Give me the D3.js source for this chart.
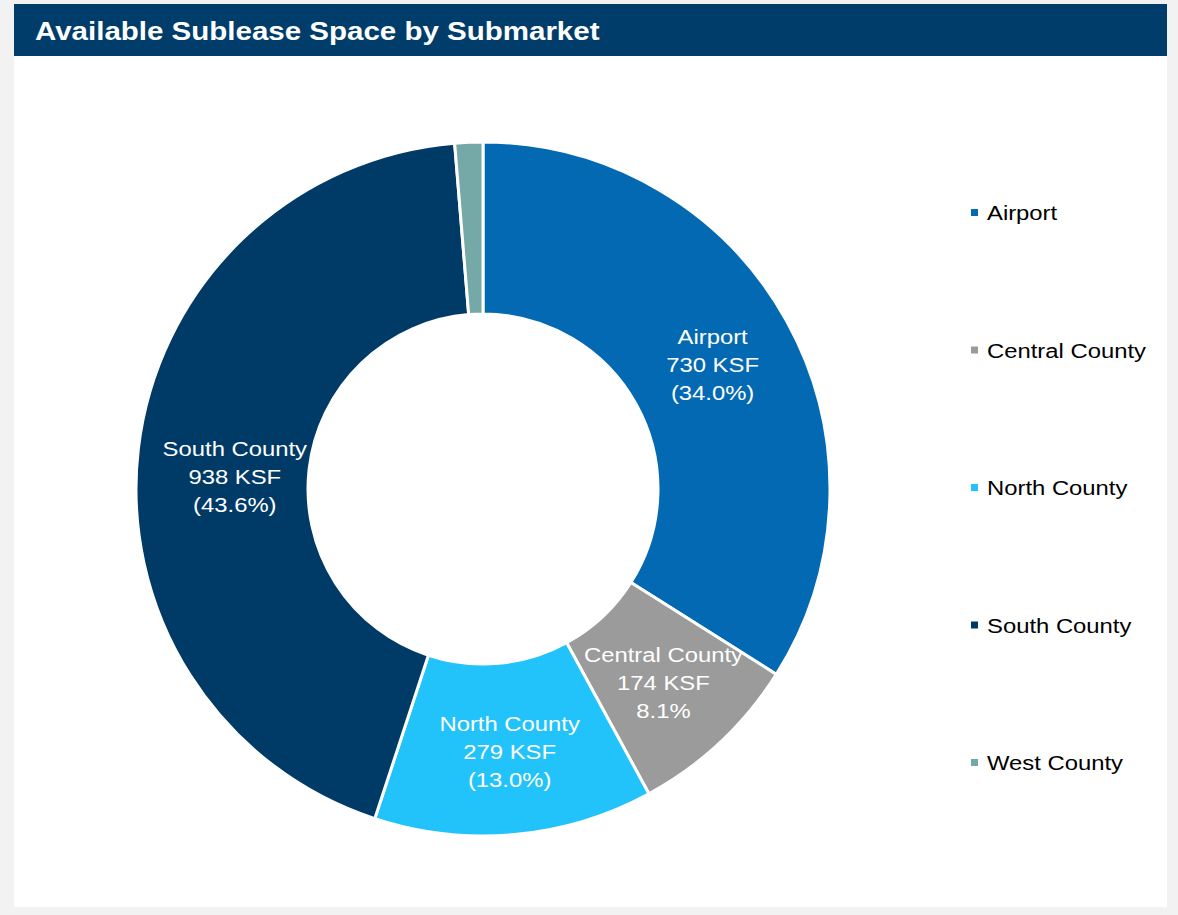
<!DOCTYPE html>
<html><head><meta charset="utf-8">
<script src="https://cdn.jsdelivr.net/npm/d3@7"></script>
<style>
html,body{margin:0;padding:0;background:#f2f2f2;}
svg{display:block;}
</style></head>
<body>
<svg id="chart" width="1178" height="915"></svg>
<script>
const categories = ["Airport","Central County","North County","South County","West County"];
const values = [730, 174, 279, 938, 28];
const valueLabels = ["730 KSF","174 KSF","279 KSF","938 KSF","28 KSF"];
const pctLabels = ["(34.0%)","8.1%","(13.0%)","(43.6%)","(1.3%)"];
const colors = ["#0369b3","#9b9b9b","#22c3fb","#003a66","#74a9a8"];
const showLabel = [true,true,true,true,false];
const title = "Available Sublease Space by Submarket";
const SX = 1.135;
const FONT = "Liberation Sans, Arial, sans-serif";

const svg = d3.select("#chart");
svg.append("rect").attr("x",0).attr("y",0).attr("width",1178).attr("height",915).attr("fill","#f2f2f2");
svg.append("rect").attr("x",14).attr("y",4).attr("width",1153).attr("height",903).attr("fill","#ffffff");
svg.append("rect").attr("x",14).attr("y",4).attr("width",1153).attr("height",52).attr("fill","#003d6a");
svg.append("g").attr("transform",`translate(35,40) scale(${SX},1)`)
  .append("text").attr("x",0).attr("y",0).attr("fill","#fff")
  .attr("font-family",FONT).attr("font-weight","bold")
  .attr("font-size",26).text(title);

const cx = 483, cy = 489, rOuter = 347, rInner = 175;
const data = categories.map((c,i)=>({name:c,value:values[i],i}));
const pie = d3.pie().value(d=>d.value).sort(null);
const arc = d3.arc().innerRadius(rInner).outerRadius(rOuter);
const arcs = pie(data);
const g = svg.append("g").attr("transform",`translate(${cx},${cy})`);
g.selectAll("path").data(arcs).join("path")
  .attr("d",arc).attr("fill",d=>colors[d.data.i])
  .attr("stroke","#fff").attr("stroke-width",3).attr("stroke-linejoin","miter");

const labelArc = d3.arc().innerRadius((rInner+rOuter)/2).outerRadius((rInner+rOuter)/2);
const offsets = [[1,2],[2,4],[3,3],[11,19],[0,0]];
const lg = g.selectAll("g.lbl").data(arcs.filter(d=>showLabel[d.data.i])).join("g")
  .attr("transform",d=>{const c=labelArc.centroid(d);const o=offsets[d.data.i];return `translate(${c[0]+o[0]},${c[1]+o[1]}) scale(${SX},1)`;});
lg.each(function(d){
  const t = d3.select(this).append("text").attr("text-anchor","middle")
    .attr("font-family",FONT).attr("font-size",21).attr("fill","#fff");
  const lines=[d.data.name, valueLabels[d.data.i], pctLabels[d.data.i]];
  lines.forEach((l,k)=>t.append("tspan").attr("x",0).attr("y",(k-1)*28+7).text(l));
});

const legY = d3.scalePoint().domain(categories).range([213,763]);
const leg = svg.append("g");
categories.forEach((c,i)=>{
  const y = legY(c);
  leg.append("rect").attr("x",971).attr("y",y-4).attr("width",7).attr("height",7).attr("fill",colors[i]);
  leg.append("g").attr("transform",`translate(987,${y+7}) scale(${SX},1)`)
    .append("text").attr("x",0).attr("y",0).attr("font-family",FONT)
    .attr("font-size",21).attr("fill","#000").text(c);
});
</script>
</body></html>
